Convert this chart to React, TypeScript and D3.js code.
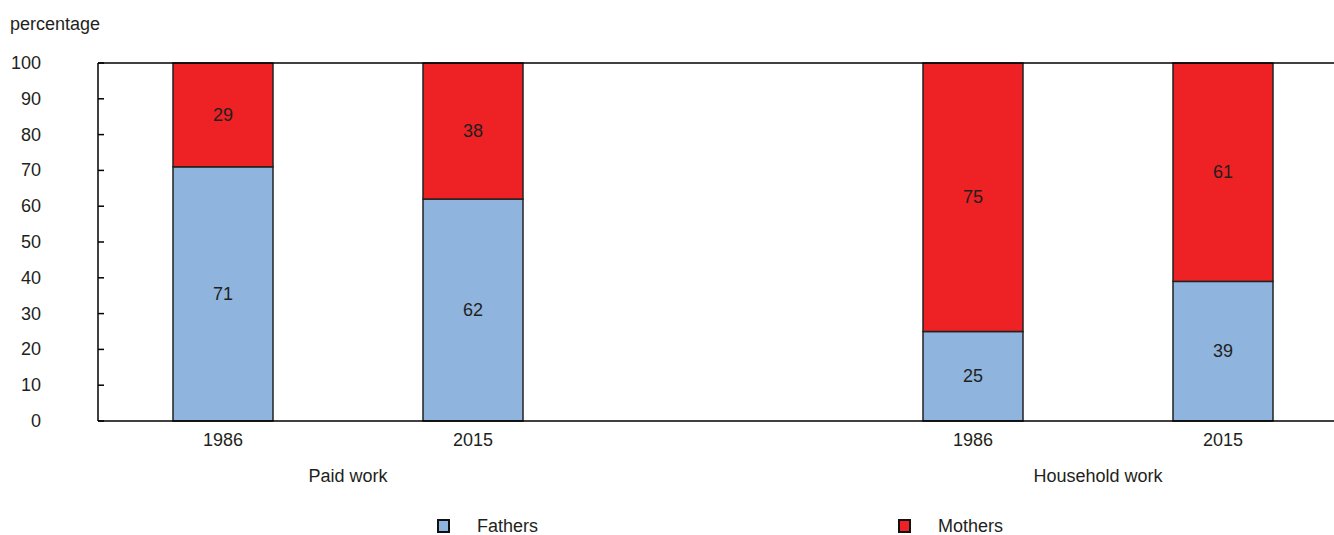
import React from "react";
import * as d3 from "d3";

const slots = ["p1986", "p2015", "gap", "h1986", "h2015"];
const barKeys = ["p1986", "p2015", "h1986", "h2015"];
const yearLabels = ["1986", "2015", "1986", "2015"];
const fathers = [71, 62, 25, 39];
const mothers = [29, 38, 75, 61];
const groups = ["Paid work", "Household work"];
const yTicks = [0, 10, 20, 30, 40, 50, 60, 70, 80, 90, 100];
const seriesNames = ["Fathers", "Mothers"];

const W = 1334, H = 535;
const left = 98, top = 63, bottom = 421;
const BLUE = "#8fb4de", RED = "#ee2224", TXT = "#231f20";
const FONT = "'Liberation Sans Narrow', 'Arial Narrow', 'Liberation Sans', Arial, sans-serif";

export default function App() {
  const x = d3.scaleBand().domain(slots).range([left, left + 1250]).paddingInner(0.6).paddingOuter(0.3);
  const y = d3.scaleLinear().domain([0, 100]).range([bottom, top]);
  const bw = x.bandwidth();
  const groupCenters = [
    ((x("p1986")! + x("p2015")!) / 2) + bw / 2,
    ((x("h1986")! + x("h2015")!) / 2) + bw / 2,
  ];
  return (
    <svg width={W} height={H} style={{ position: "absolute", left: 0, top: 0, fontFamily: FONT }}>
      <text x={10} y={30} fontSize={18} fill={TXT}>percentage</text>
      {yTicks.map((t) => (
        <g key={t}>
          <text x={41} y={y(t) + 6} fontSize={18} textAnchor="end" fill={TXT}>{t}</text>
          <line x1={left} x2={left + 6} y1={y(t)} y2={y(t)} stroke="#000" strokeWidth={1.5} />
        </g>
      ))}
      {barKeys.map((k, i) => {
        const bx = x(k)!;
        return (
          <g key={k}>
            <rect x={bx} y={y(fathers[i])} width={bw} height={y(0) - y(fathers[i])} fill={BLUE} stroke="#222" strokeWidth={1.5} />
            <rect x={bx} y={y(100)} width={bw} height={y(fathers[i]) - y(100)} fill={RED} stroke="#222" strokeWidth={1.5} />
            <text x={bx + bw / 2} y={y(fathers[i] / 2) + 6} fontSize={18} textAnchor="middle" fill={TXT}>{fathers[i]}</text>
            <text x={bx + bw / 2} y={y(fathers[i] + mothers[i] / 2) + 6} fontSize={18} textAnchor="middle" fill={TXT}>{mothers[i]}</text>
            <text x={bx + bw / 2} y={446} fontSize={18} textAnchor="middle" fill={TXT}>{yearLabels[i]}</text>
          </g>
        );
      })}
      <line x1={left} x2={W} y1={top} y2={top} stroke="#000" strokeWidth={1.5} />
      <line x1={left} x2={W} y1={bottom} y2={bottom} stroke="#000" strokeWidth={1.5} />
      <line x1={left} x2={left} y1={top} y2={bottom} stroke="#000" strokeWidth={1.5} />
      {groups.map((g, i) => (
        <text key={g} x={groupCenters[i]} y={482} fontSize={18} textAnchor="middle" fill={TXT}>{g}</text>
      ))}
      {seriesNames.map((s, i) => {
        const lx = i === 0 ? 438 : 899;
        return (
          <g key={s}>
            <rect x={lx} y={520} width={11} height={12} fill={i === 0 ? BLUE : RED} stroke="#111" strokeWidth={2} />
            <text x={lx + 39} y={532} fontSize={18} fill={TXT}>{s}</text>
          </g>
        );
      })}
    </svg>
  );
}
